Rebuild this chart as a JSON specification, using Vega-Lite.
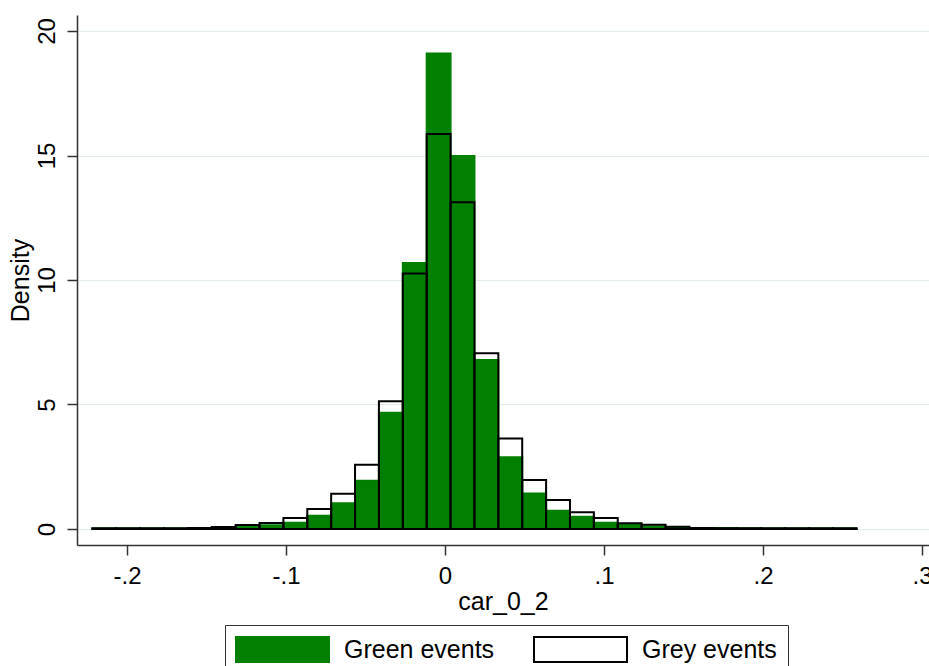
{
  "$schema": "https://vega.github.io/schema/vega-lite/v6.json",
  "autosize": {"type": "none"},
  "padding": {"left": 77, "top": 15, "right": 0, "bottom": 121},
  "width": 852,
  "height": 530,
  "background": "white",
  "config": {
    "view": {"stroke": null},
    "font": "Liberation Sans",
    "axis": {
      "labelFont": "Liberation Sans",
      "titleFont": "Liberation Sans",
      "labelColor": "black",
      "titleColor": "black",
      "titleFontWeight": "normal",
      "domainColor": "#333333",
      "domainWidth": 1.5,
      "tickColor": "#333333",
      "tickWidth": 1.5,
      "tickSize": 10
    },
    "legend": {
      "labelFont": "Liberation Sans"
    }
  },
  "data": {
    "values": [
      {"group": "Green events", "lo": -0.22180, "hi": -0.20678, "density": 0.02},
      {"group": "Green events", "lo": -0.20678, "hi": -0.19176, "density": 0.02},
      {"group": "Green events", "lo": -0.19176, "hi": -0.17674, "density": 0.02},
      {"group": "Green events", "lo": -0.17674, "hi": -0.16172, "density": 0.02},
      {"group": "Green events", "lo": -0.16172, "hi": -0.14670, "density": 0.03},
      {"group": "Green events", "lo": -0.14670, "hi": -0.13168, "density": 0.05},
      {"group": "Green events", "lo": -0.13168, "hi": -0.11666, "density": 0.09},
      {"group": "Green events", "lo": -0.11666, "hi": -0.10164, "density": 0.15},
      {"group": "Green events", "lo": -0.10164, "hi": -0.08662, "density": 0.25},
      {"group": "Green events", "lo": -0.08662, "hi": -0.07160, "density": 0.53},
      {"group": "Green events", "lo": -0.07160, "hi": -0.05658, "density": 1.03},
      {"group": "Green events", "lo": -0.05658, "hi": -0.04156, "density": 1.94},
      {"group": "Green events", "lo": -0.04156, "hi": -0.02654, "density": 4.67},
      {"group": "Green events", "lo": -0.02654, "hi": -0.01152, "density": 10.68},
      {"group": "Green events", "lo": -0.01152, "hi": 0.00350, "density": 19.10},
      {"group": "Green events", "lo": 0.00350, "hi": 0.01852, "density": 14.98},
      {"group": "Green events", "lo": 0.01852, "hi": 0.03354, "density": 6.79},
      {"group": "Green events", "lo": 0.03354, "hi": 0.04856, "density": 2.88},
      {"group": "Green events", "lo": 0.04856, "hi": 0.06358, "density": 1.43},
      {"group": "Green events", "lo": 0.06358, "hi": 0.07860, "density": 0.73},
      {"group": "Green events", "lo": 0.07860, "hi": 0.09362, "density": 0.49},
      {"group": "Green events", "lo": 0.09362, "hi": 0.10864, "density": 0.25},
      {"group": "Green events", "lo": 0.10864, "hi": 0.12366, "density": 0.16},
      {"group": "Green events", "lo": 0.12366, "hi": 0.13868, "density": 0.10},
      {"group": "Green events", "lo": 0.13868, "hi": 0.15370, "density": 0.05},
      {"group": "Green events", "lo": 0.15370, "hi": 0.16872, "density": 0.04},
      {"group": "Green events", "lo": 0.16872, "hi": 0.18374, "density": 0.04},
      {"group": "Green events", "lo": 0.18374, "hi": 0.19876, "density": 0.03},
      {"group": "Green events", "lo": 0.19876, "hi": 0.21378, "density": 0.02},
      {"group": "Green events", "lo": 0.21378, "hi": 0.22880, "density": 0.02},
      {"group": "Green events", "lo": 0.22880, "hi": 0.24382, "density": 0.02},
      {"group": "Green events", "lo": 0.24382, "hi": 0.25884, "density": 0.02},
      {"group": "Grey events", "lo": -0.22180, "hi": -0.20678, "density": 0.03},
      {"group": "Grey events", "lo": -0.20678, "hi": -0.19176, "density": 0.03},
      {"group": "Grey events", "lo": -0.19176, "hi": -0.17674, "density": 0.03},
      {"group": "Grey events", "lo": -0.17674, "hi": -0.16172, "density": 0.03},
      {"group": "Grey events", "lo": -0.16172, "hi": -0.14670, "density": 0.04},
      {"group": "Grey events", "lo": -0.14670, "hi": -0.13168, "density": 0.08},
      {"group": "Grey events", "lo": -0.13168, "hi": -0.11666, "density": 0.16},
      {"group": "Grey events", "lo": -0.11666, "hi": -0.10164, "density": 0.24},
      {"group": "Grey events", "lo": -0.10164, "hi": -0.08662, "density": 0.44},
      {"group": "Grey events", "lo": -0.08662, "hi": -0.07160, "density": 0.80},
      {"group": "Grey events", "lo": -0.07160, "hi": -0.05658, "density": 1.42},
      {"group": "Grey events", "lo": -0.05658, "hi": -0.04156, "density": 2.58},
      {"group": "Grey events", "lo": -0.04156, "hi": -0.02654, "density": 5.13},
      {"group": "Grey events", "lo": -0.02654, "hi": -0.01152, "density": 10.26},
      {"group": "Grey events", "lo": -0.01152, "hi": 0.00350, "density": 15.86},
      {"group": "Grey events", "lo": 0.00350, "hi": 0.01852, "density": 13.12},
      {"group": "Grey events", "lo": 0.01852, "hi": 0.03354, "density": 7.06},
      {"group": "Grey events", "lo": 0.03354, "hi": 0.04856, "density": 3.63},
      {"group": "Grey events", "lo": 0.04856, "hi": 0.06358, "density": 1.97},
      {"group": "Grey events", "lo": 0.06358, "hi": 0.07860, "density": 1.16},
      {"group": "Grey events", "lo": 0.07860, "hi": 0.09362, "density": 0.67},
      {"group": "Grey events", "lo": 0.09362, "hi": 0.10864, "density": 0.44},
      {"group": "Grey events", "lo": 0.10864, "hi": 0.12366, "density": 0.23},
      {"group": "Grey events", "lo": 0.12366, "hi": 0.13868, "density": 0.17},
      {"group": "Grey events", "lo": 0.13868, "hi": 0.15370, "density": 0.09},
      {"group": "Grey events", "lo": 0.15370, "hi": 0.16872, "density": 0.04},
      {"group": "Grey events", "lo": 0.16872, "hi": 0.18374, "density": 0.03},
      {"group": "Grey events", "lo": 0.18374, "hi": 0.19876, "density": 0.03},
      {"group": "Grey events", "lo": 0.19876, "hi": 0.21378, "density": 0.03},
      {"group": "Grey events", "lo": 0.21378, "hi": 0.22880, "density": 0.03},
      {"group": "Grey events", "lo": 0.22880, "hi": 0.24382, "density": 0.03},
      {"group": "Grey events", "lo": 0.24382, "hi": 0.25884, "density": 0.03}
    ]
  },
  "mark": {"type": "bar", "strokeWidth": 2},
  "encoding": {
    "x": {
      "field": "lo",
      "type": "quantitative",
      "scale": {"domain": [-0.23145, 0.3044], "nice": false, "zero": false},
      "axis": {
        "title": "car_0_2",
        "values": [-0.2, -0.1, 0, 0.1, 0.2, 0.3],
        "labelExpr": "datum.value == 0 ? '0' : (datum.value < 0 ? '-' : '') + '.' + toString(round(abs(datum.value) * 10))",
        "labelFontSize": 24,
        "labelPadding": 9,
        "labelFlush": false,
        "labelOverlap": false,
        "grid": false,
        "titleFontSize": 25,
        "titlePadding": 1
      }
    },
    "x2": {"field": "hi"},
    "y": {
      "field": "density",
      "type": "quantitative",
      "stack": null,
      "scale": {"domain": [-0.643, 20.643], "nice": false, "zero": false},
      "axis": {
        "title": "Density",
        "values": [0, 5, 10, 15, 20],
        "labelAngle": -90,
        "labelAlign": "center",
        "labelBaseline": "bottom",
        "labelFontSize": 24,
        "labelPadding": 8,
        "grid": true,
        "gridColor": "#e2ecef",
        "gridWidth": 1.2,
        "titleFontSize": 25,
        "titlePadding": 2
      }
    },
    "y2": {"datum": 0},
    "fill": {
      "field": "group",
      "type": "nominal",
      "scale": {"domain": ["Green events", "Grey events"], "range": ["#007f00", "transparent"]},
      "legend": {
        "title": null,
        "orient": "none",
        "legendX": 148,
        "legendY": 610,
        "direction": "horizontal",
        "strokeColor": "#333333",
        "fillColor": "white",
        "padding": 11,
        "symbolType": "M-3.72,-1H3.72V1H-3.72Z",
        "symbolSize": 625,
        "symbolStrokeWidth": 2,
        "symbolOffset": 33,
        "labelFontSize": 25,
        "labelOffset": 48,
        "columnPadding": 35,
        "labelColor": "black"
      }
    },
    "stroke": {
      "field": "group",
      "type": "nominal",
      "scale": {"domain": ["Green events", "Grey events"], "range": ["#007f00", "#000000"]},
      "legend": {
        "title": null,
        "orient": "none",
        "legendX": 148,
        "legendY": 610,
        "direction": "horizontal",
        "strokeColor": "#333333",
        "fillColor": "white",
        "padding": 11,
        "symbolType": "M-3.72,-1H3.72V1H-3.72Z",
        "symbolSize": 625,
        "symbolStrokeWidth": 2,
        "symbolOffset": 33,
        "labelFontSize": 25,
        "labelOffset": 48,
        "columnPadding": 35,
        "labelColor": "black"
      }
    }
  }
}
